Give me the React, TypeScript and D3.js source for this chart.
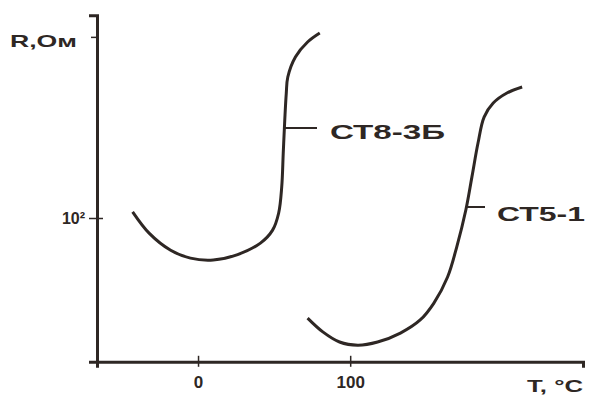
import React, { useEffect, useRef } from "react";
import * as d3 from "d3";

// temperature, °C
const ct83bT = [-43, -32, -18, -5, 10, 26, 41, 49, 53, 55, 56, 57, 58, 59, 64, 72, 80];
// resistance, Ohm
const ct83bR = [110, 79, 61, 54, 52.5, 57, 68, 83, 108, 161, 271, 450, 681, 871, 1184, 1490, 1711];

const ct51T = [72, 82, 93, 105, 118, 133, 146, 155, 164, 170, 176, 180, 184, 188, 194, 203, 213];
const ct51R = [21.5, 17.4, 14.9, 14.2, 14.9, 17.1, 20.9, 27.1, 40.4, 64, 113, 188, 316, 471, 584, 681, 747];

const xTicks = [0, 100];
const yTicks = [100];
const seriesNames = ["СТ8-3Б", "СТ5-1"];

const ink = "#2e2724";
const font = "'Liberation Sans', Arial, sans-serif";

export default function App() {
  const xAxisRef = useRef<SVGGElement>(null);
  const yAxisRef = useRef<SVGGElement>(null);

  const x = d3.scaleLinear().domain([-66.4, 253]).range([97, 583]);
  const y = d3.scaleLog().domain([10, 1000]).range([368, 68]);
  const yAx = y.copy().domain([11, 2250]).range([y(11), y(2250)]);

  const line = d3
    .line<[number, number]>()
    .x((d) => x(d[0]))
    .y((d) => y(d[1]))
    .curve(d3.curveCatmullRom.alpha(0.5));

  const s1 = ct83bT.map((t, i) => [t, ct83bR[i]] as [number, number]);
  const s2 = ct51T.map((t, i) => [t, ct51R[i]] as [number, number]);

  useEffect(() => {
    const gx = d3.select(xAxisRef.current);
    gx.call(
      d3.axisBottom(x).tickValues(xTicks).tickSizeOuter(0).tickSize(6).tickFormat(d3.format("d")) as any
    );
    gx.select(".domain").attr("stroke", ink).attr("stroke-width", 3);
    gx.selectAll(".tick line").attr("stroke", ink).attr("stroke-width", 1.5).attr("y1", -6).attr("y2", 5);
    gx.selectAll(".tick text")
      .attr("fill", ink)
      .attr("font-family", font)
      .attr("font-weight", "bold")
      .attr("font-size", 17)
      .attr("y", 14);

    const gy = d3.select(yAxisRef.current);
    gy.call(
      d3.axisLeft(yAx).tickValues(yTicks).tickSizeOuter(0).tickSize(8).tickFormat(() => "10²") as any
    );
    gy.select(".domain").attr("stroke", ink).attr("stroke-width", 3);
    gy.selectAll(".tick line").attr("stroke", ink).attr("stroke-width", 1.5).attr("x2", 6).attr("x1", -8);
    gy.selectAll(".tick text")
      .attr("fill", ink)
      .attr("font-family", font)
      .attr("font-weight", "bold")
      .attr("font-size", 16)
      .attr("x", -12);
  }, []);

  const leader1 = 60;
  const leader2 = 178;

  return (
    <div style={{ position: "absolute", left: 0, top: 0 }}>
      <svg width={589} height={398} style={{ display: "block", background: "#fff" }}>
        <g ref={yAxisRef} transform={`translate(${x(-66.4)},0)`} />
        <g ref={xAxisRef} transform={`translate(0,${yAx(11)})`} />
        <line x1={91} x2={97} y1={y(1600)} y2={y(1600)} stroke={ink} strokeWidth={1.5} />

        <path d={line(s1) ?? ""} fill="none" stroke={ink} strokeWidth={3} strokeLinejoin="round" />
        <path d={line(s2) ?? ""} fill="none" stroke={ink} strokeWidth={3} strokeLinejoin="round" />

        <line x1={x(57)} x2={317} y1={128} y2={128} stroke={ink} strokeWidth={2} />
        <text
          x={330}
          y={139}
          fontFamily={font}
          fontWeight="bold"
          fontSize={20}
          fill={ink}
          textLength={115}
          lengthAdjust="spacingAndGlyphs"
        >
          {seriesNames[0]}
        </text>

        <line x1={x(leader2) - 2} x2={485} y1={207} y2={207} stroke={ink} strokeWidth={2} />
        <text
          x={497}
          y={221}
          fontFamily={font}
          fontWeight="bold"
          fontSize={20}
          fill={ink}
          textLength={88}
          lengthAdjust="spacingAndGlyphs"
        >
          {seriesNames[1]}
        </text>

        <text
          x={10}
          y={47}
          fontFamily={font}
          fontWeight="bold"
          fontSize={17}
          fill={ink}
          textLength={67}
          lengthAdjust="spacingAndGlyphs"
        >
          R,Ом
        </text>
        <text
          x={527}
          y={392}
          fontFamily={font}
          fontWeight="bold"
          fontSize={17}
          fill={ink}
          textLength={56}
          lengthAdjust="spacingAndGlyphs"
        >
          T, °C
        </text>
      </svg>
    </div>
  );
}
